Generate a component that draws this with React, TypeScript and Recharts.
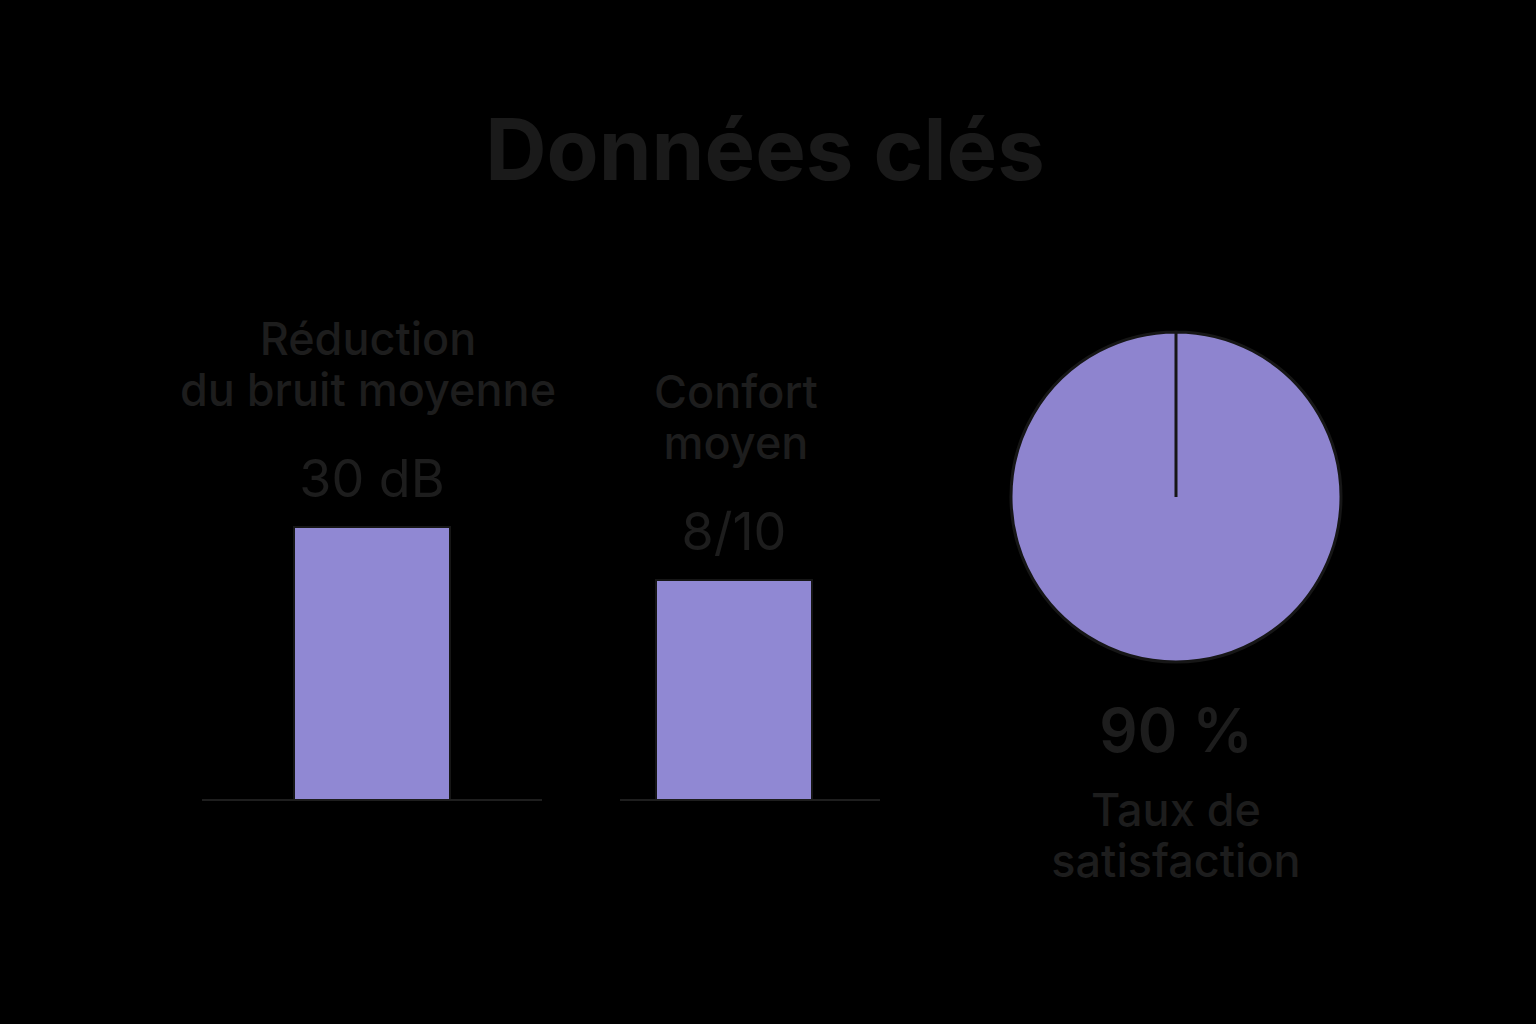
import React from "react"
import { BarChart, Bar, XAxis, YAxis, LabelList, PieChart, Pie, Cell } from "recharts"

const titleText = "Données clés"

const barTitles = [["Réduction", "du bruit moyenne"], ["Confort", "moyen"]]
const barValues = [30, 8]
const barDisplays = ["30 dB", "8/10"]
const barMaxes = [30, 10]

const pieValues = [90]
const pieDisplay = "90 %"
const pieTitle = ["Taux de", "satisfaction"]

const TEXT = "#1d1d1d"
const BAR_FILL = "#9088d3"
const OUTLINE = "#161616"
const FONT = "Inter, 'Noto Sans', sans-serif"

const makeTitle = (chartIndex: number, shift: number) => (props: any) => {
  const { x, y, width } = props
  const cx = Number(x) + Number(width) / 2 + shift
  const lines = barTitles[chartIndex]
  const base = Number(y) - 121
  return (
    <g>
      {lines.map((line, i) => (
        <text key={i} x={cx} y={base - (lines.length - 1 - i) * 51} textAnchor="middle"
          fill={TEXT} fontSize={45} fontWeight={500} fontFamily={FONT}>
          {line}
        </text>
      ))}
    </g>
  )
}

function MetricBar({ idx, left, width, top, plotTop, side, padRight, shift }: any) {
  const data = [{ name: barTitles[idx].join(" "), value: barValues[idx], display: barDisplays[idx] }]
  return (
    <div style={{ position: "absolute", left: left - side, top }}>
      <BarChart width={width + side * 2} height={520} data={data} margin={{ top: plotTop, right: side, bottom: 0, left: side }}>
        <XAxis dataKey="name" tick={false} tickLine={false} height={20}
          axisLine={{ stroke: "#1e1e1e", strokeWidth: 2 }} padding={{ left: 0, right: padRight }} />
        <YAxis hide domain={[0, barMaxes[idx]]} />
        <Bar dataKey="value" barSize={156} fill={BAR_FILL} stroke={OUTLINE} strokeWidth={2} isAnimationActive={false}>
          <LabelList dataKey="display" position="top" offset={30} fill={TEXT} fontSize={52} fontWeight={400} fontFamily={FONT} />
          <LabelList dataKey="name" content={makeTitle(idx, shift)} />
        </Bar>
      </BarChart>
    </div>
  )
}

export default function App() {
  const pieData = pieValues.map((v) => ({ name: pieTitle.join(" "), value: v }))
  return (
    <div style={{ position: "absolute", left: 0, top: 0, width: 1536, height: 1024, background: "#000", overflow: "hidden" }}>
      <MetricBar idx={0} left={202} width={340} top={300} plotTop={227} side={40} padRight={0} shift={-4} />
      <MetricBar idx={1} left={620} width={260} top={300} plotTop={225} side={40} padRight={32} shift={2} />
      <div style={{ position: "absolute", left: 1000, top: 320 }}>
        <PieChart width={352} height={354} margin={{ top: 0, right: 0, bottom: 0, left: 0 }}>
          <Pie data={pieData} dataKey="value" cx={176} cy={177} outerRadius={165} innerRadius={0}
            startAngle={90} endAngle={-270} stroke={OUTLINE} strokeWidth={3} isAnimationActive={false}>
            {pieData.map((_, i) => (
              <Cell key={i} fill="#8e84cf" />
            ))}
          </Pie>
        </PieChart>
      </div>
      <svg width={1536} height={1024} style={{ position: "absolute", left: 0, top: 0, pointerEvents: "none" }}>
        <text x={765} y={180} textAnchor="middle" fill="#1a1a1a" fontSize={85} fontWeight={700} fontFamily={FONT}>
          {titleText}
        </text>
        <text x={1176} y={752} textAnchor="middle" fill={TEXT} fontSize={60} fontWeight={600} fontFamily={FONT}>
          {pieDisplay}
        </text>
        {pieTitle.map((line, i) => (
          <text key={i} x={1176} y={826 + i * 51} textAnchor="middle" fill={TEXT} fontSize={45} fontWeight={500} fontFamily={FONT}>
            {line}
          </text>
        ))}
      </svg>
    </div>
  )
}
